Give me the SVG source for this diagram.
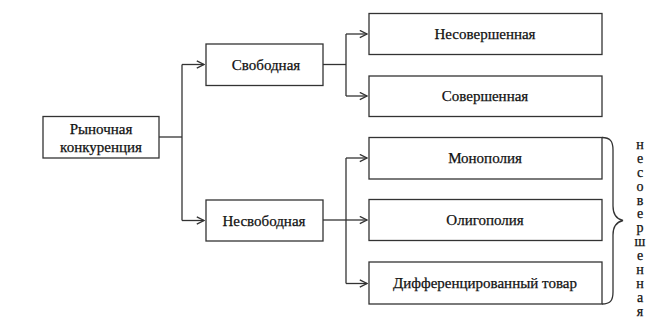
<svg xmlns="http://www.w3.org/2000/svg" width="663" height="318" viewBox="0 0 663 318">
<style>
.box{fill:#fff;stroke:#333;stroke-width:1.3}
.t{font-family:"Liberation Serif","Times New Roman",serif;font-size:15px;fill:#111;text-anchor:middle;dominant-baseline:central;stroke:#111;stroke-width:0.25}
.c{fill:none;stroke:#333;stroke-width:1.3}
.v{font-family:"Liberation Serif","Times New Roman",serif;font-size:14px;fill:#111;text-anchor:middle;stroke:#111;stroke-width:0.25}
</style>
<defs>
<marker id="a" viewBox="0 0 10 10" refX="9" refY="5" markerWidth="9" markerHeight="9" markerUnits="userSpaceOnUse" orient="auto">
<path d="M1,1 L9,5 L1,9" fill="none" stroke="#333" stroke-width="1.5"/>
</marker>
</defs>
<rect width="663" height="318" fill="#fff"/>
<g id="connectors">
<path class="c" d="M159,137 H182"/>
<path class="c" d="M182,64.5 V220.5"/>
<path class="c" d="M182,64.5 H204" marker-end="url(#a)"/>
<path class="c" d="M182,220.5 H204" marker-end="url(#a)"/>
<path class="c" d="M323,64.5 H346"/>
<path class="c" d="M346,34 V96"/>
<path class="c" d="M346,34 H367" marker-end="url(#a)"/>
<path class="c" d="M346,96 H367" marker-end="url(#a)"/>
<path class="c" d="M323,220 H346"/>
<path class="c" d="M346,158 V283.5"/>
<path class="c" d="M346,158 H367" marker-end="url(#a)"/>
<path class="c" d="M346,220 H367" marker-end="url(#a)"/>
<path class="c" d="M346,283.5 H367" marker-end="url(#a)"/>
</g>
<g id="n-root"><rect class="box" x="43" y="116.5" width="116" height="41.5"/><text class="t" x="101" y="129">Рыночная</text><text class="t" x="101" y="146.5">конкуренция</text></g>
<g id="n-free"><rect class="box" x="206" y="44" width="117" height="41.5"/><text class="t" x="266" y="64.5">Свободная</text></g>
<g id="n-nonfree"><rect class="box" x="206" y="200" width="117" height="41"/><text class="t" x="264" y="220.5">Несвободная</text></g>
<g id="n-imperfect"><rect class="box" x="369" y="13.5" width="233" height="41"/><text class="t" x="485" y="34">Несовершенная</text></g>
<g id="n-perfect"><rect class="box" x="369" y="76" width="233" height="40.5"/><text class="t" x="485" y="96">Совершенная</text></g>
<g id="n-monopoly"><rect class="box" x="369" y="137.5" width="233" height="41.5"/><text class="t" x="485" y="158">Монополия</text></g>
<g id="n-oligopoly"><rect class="box" x="369" y="199.5" width="233" height="41"/><text class="t" x="485" y="220">Олигополия</text></g>
<g id="n-diff"><rect class="box" x="369" y="262" width="233" height="42"/><text class="t" x="485" y="283">Дифференцированный товар</text></g>
<g id="brace">
<path class="c" d="M602,137.5 C610,137.5 613,141 613,150 V206 C613,214 616,219 623,220.5 C616,222 613,227 613,235 V292 C613,301 610,304 602,304"/>
<text class="v" x="640" y="149">н</text>
<text class="v" x="640" y="163">е</text>
<text class="v" x="640" y="177">с</text>
<text class="v" x="640" y="190.5">о</text>
<text class="v" x="640" y="204.5">в</text>
<text class="v" x="640" y="218">е</text>
<text class="v" x="640" y="232">р</text>
<text class="v" x="640" y="246">ш</text>
<text class="v" x="640" y="260">е</text>
<text class="v" x="640" y="274">н</text>
<text class="v" x="640" y="288">н</text>
<text class="v" x="640" y="302">а</text>
<text class="v" x="640" y="316">я</text>
</g>
</svg>
